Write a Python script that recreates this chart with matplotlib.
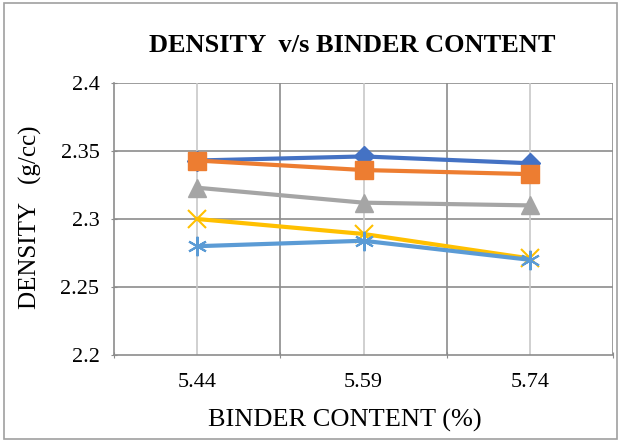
import matplotlib.pyplot as plt
from matplotlib.patches import Rectangle

plt.rcParams['font.family'] = ['Liberation Serif', 'DejaVu Serif']

# binder content categories and measured densities
binder = ["5.44", "5.59", "5.74"]
s1 = [2.343, 2.346, 2.341]
s2 = [2.343, 2.336, 2.333]
s3 = [2.323, 2.312, 2.310]
s4 = [2.300, 2.289, 2.271]
s5 = [2.280, 2.284, 2.270]

fig = plt.figure(figsize=(6.21, 4.41), dpi=100)
ax = fig.add_axes([114 / 621, 1 - 355 / 441, 499 / 621, 272 / 441])

x = list(range(len(binder)))

# grid: dark lines between categories, light lines at category centers
for yv in [2.25, 2.3, 2.35, 2.4]:
    ax.axhline(yv, color="#8c8c8c", lw=1.2, zorder=0)
for xv in [0.5, 1.5, 2.5]:
    ax.axvline(xv, color="#8c8c8c", lw=1.2, zorder=0)
for xv in x:
    ax.axvline(xv, color="#c8c8c8", lw=1.2, zorder=0)

ax.plot(x, s1, color="#4472C4", lw=3, marker="D", ms=10, zorder=3)
ax.plot(x, s2, color="#ED7D31", lw=3, marker="s", ms=13, zorder=3)
ax.plot(x, s3, color="#A5A5A5", lw=3, marker="^", ms=13, zorder=3)
ax.plot(x, s4, color="#FFC000", lw=3, marker="x", ms=13, mew=1.5, zorder=3)
ax.plot(x, s5, color="#5B9BD5", lw=3, marker=(6, 2, 0), ms=14, mew=1.5, zorder=3)

ax.set_xlim(-0.5, 2.5)
ax.set_ylim(2.2, 2.4)
ax.set_xticks([-0.5, 0.5, 1.5, 2.5])
ax.set_xticklabels([])
ax.set_xticks(x, minor=True)
ax.set_xticklabels(binder, minor=True)
ax.set_yticks([2.2, 2.25, 2.3, 2.35, 2.4])
ax.set_yticklabels(["2.2", "2.25", "2.3", "2.35", "2.4"])
ax.tick_params(axis="x", which="major", length=5, direction="inout", color="#8c8c8c")
ax.tick_params(axis="x", which="minor", length=0, pad=13, labelsize=16)
ax.tick_params(axis="y", length=5, direction="inout", color="#8c8c8c", labelsize=16, pad=8)

for side in ["top", "right"]:
    ax.spines[side].set_visible(False)
ax.spines["left"].set_color("#8c8c8c")
ax.spines["bottom"].set_color("#8c8c8c")
ax.spines["left"].set_linewidth(1.2)
ax.spines["bottom"].set_linewidth(1.2)

ax.set_xlabel("BINDER CONTENT (%)", fontsize=19)
ax.xaxis.set_label_coords((345 - 114) / 499, -(409 - 355) / 272)
ax.set_ylabel("DENSITY   (g/cc)", fontsize=18)
ax.yaxis.set_label_coords(-(114 - 42) / 499, (355 - 217) / 272)

fig.text(352 / 621, 1 - 46 / 441, "DENSITY  v/s BINDER CONTENT", ha="center", va="center",
         fontsize=19, fontweight="bold")

# chart border
fig.patches.append(Rectangle((4 / 621, 2 / 441), 613 / 621, 436 / 441, transform=fig.transFigure,
                             fill=False, edgecolor="#a0a0a0", lw=1.2))

fig.savefig("out.png", dpi=100)
